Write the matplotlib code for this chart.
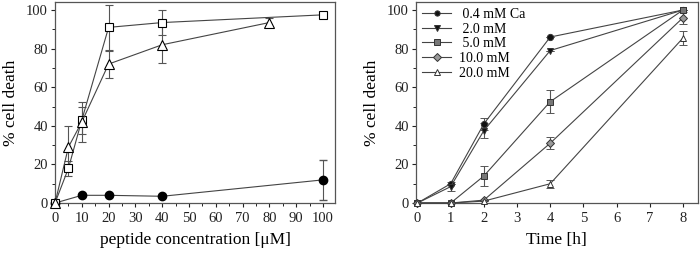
import numpy as np
import matplotlib.pyplot as plt
from matplotlib.lines import Line2D

plt.rcParams['font.family'] = ['Liberation Serif', 'DejaVu Serif']

# panel kiri: konsentrasi peptida
conc_circ = [0, 10, 20, 40, 100]
death_circ = [0, 4, 4, 3.5, 12]
err_circ = [0, 0.5, 0.5, 0.5, 10.5]

conc_sq = [0, 5, 10, 20, 40, 100]
death_sq = [0, 18, 43, 91, 93.5, 97.5]
err_sq = [0, 4, 7, 11.5, 6.5, 0]

conc_tri = [0, 5, 10, 20, 40, 80]
death_tri = [0, 29, 42, 72, 82, 93.5]
err_tri = [0, 11, 10.5, 7, 9.5, 2.5]

# panel kanan: waktu
time_h = [0, 1, 2, 4, 8]
ca_labels = [' 0.4 mM Ca', ' 2.0 mM', ' 5.0 mM', '10.0 mM', '20.0 mM']
ca_death = [
    [0, 10, 41, 86, 100],
    [0, 8.5, 37.5, 79, 100],
    [0, 0, 14, 52.5, 100],
    [0, 0, 1.5, 31, 96],
    [0, 0, 1, 10, 85.5],
]
ca_err = [
    [0, 0, 3, 0, 0],
    [0, 2.5, 4, 0, 0],
    [0, 0, 5, 6, 0],
    [0, 0, 0, 3, 3],
    [0, 0, 0, 2, 3.5],
]
ca_marker = ['o', 'v', 's', 'D', '^']
ca_face = ['#111111', '#111111', '#777777', '#999999', 'white']

fig = plt.figure(figsize=(7, 2.63), dpi=100)
ax1 = fig.add_axes([0.0786, 0.228, 0.400, 0.7655])
ax2 = fig.add_axes([0.594, 0.228, 0.403, 0.7655])

lc = '#444444'
ax1.errorbar(conc_circ, death_circ, yerr=err_circ, color=lc, lw=0.8, marker='o', ms=6,
             mfc='black', mec='black', capsize=3, elinewidth=0.8, ecolor='#555555',
             clip_on=False, zorder=3)
ax1.errorbar(conc_sq, death_sq, yerr=err_sq, color=lc, lw=0.8, marker='s', ms=6,
             mfc='white', mec='black', mew=0.8, capsize=3, elinewidth=0.8, ecolor='#555555',
             clip_on=False, zorder=3)
ax1.errorbar(conc_tri, death_tri, yerr=err_tri, color=lc, lw=0.8, marker='^', ms=7,
             mfc='white', mec='black', mew=0.8, capsize=3, elinewidth=0.8, ecolor='#555555',
             clip_on=False, zorder=3)
ax1.set_xlim(0, 104.5)
ax1.set_ylim(0, 104.3)
ax1.set_xticks(np.arange(0, 101, 10))
ax1.set_xticks(np.arange(5, 101, 10), minor=True)
ax1.set_yticks(np.arange(0, 101, 20))
ax1.set_yticks(np.arange(10, 101, 20), minor=True)
ax1.set_xlabel('peptide concentration [\u03bcM]', fontsize=12.5, labelpad=5)
ax1.set_ylabel('% cell death', fontsize=12.5, labelpad=5)

handles = []
for y, e, m, fc, lab in zip(ca_death, ca_err, ca_marker, ca_face, ca_labels):
    ms = 4.5 if m != 'D' else 4
    ax2.errorbar(time_h, y, yerr=e, color=lc, lw=0.8, marker=m, ms=ms, mfc=fc,
                 mec='#333333', mew=0.7, capsize=3, elinewidth=0.8, ecolor='#555555',
                 clip_on=False, zorder=3)
    handles.append(Line2D([], [], color=lc, lw=0.8, marker=m, ms=3.8, mfc=fc,
                          mec='#333333', mew=0.7, label=lab))
ax2.set_xlim(-0.05, 8.45)
ax2.set_ylim(0, 104.3)
ax2.set_xticks(range(0, 9))
ax2.set_yticks(np.arange(0, 101, 20))
ax2.set_yticks(np.arange(10, 101, 20), minor=True)
ax2.set_xlabel('Time [h]', fontsize=12.5, labelpad=5)
ax2.set_ylabel('% cell death', fontsize=12.5, labelpad=5)
ax2.legend(handles=handles, loc='upper left', frameon=False, fontsize=10, handlelength=2.1,
           borderaxespad=0.2, borderpad=0.25, labelspacing=0.12, handletextpad=0.58)

for ax in (ax1, ax2):
    for s in ax.spines.values():
        s.set_color('#555555')
        s.set_linewidth(0.9)
    ax.tick_params(labelsize=10.5, length=3, width=0.8, colors='#222222')
    ax.tick_params(axis='x', pad=3.5)
    ax.tick_params(axis='y', pad=2)
    ax.tick_params(which='minor', length=2, width=0.6)

fig.savefig('out.png', dpi=100)
